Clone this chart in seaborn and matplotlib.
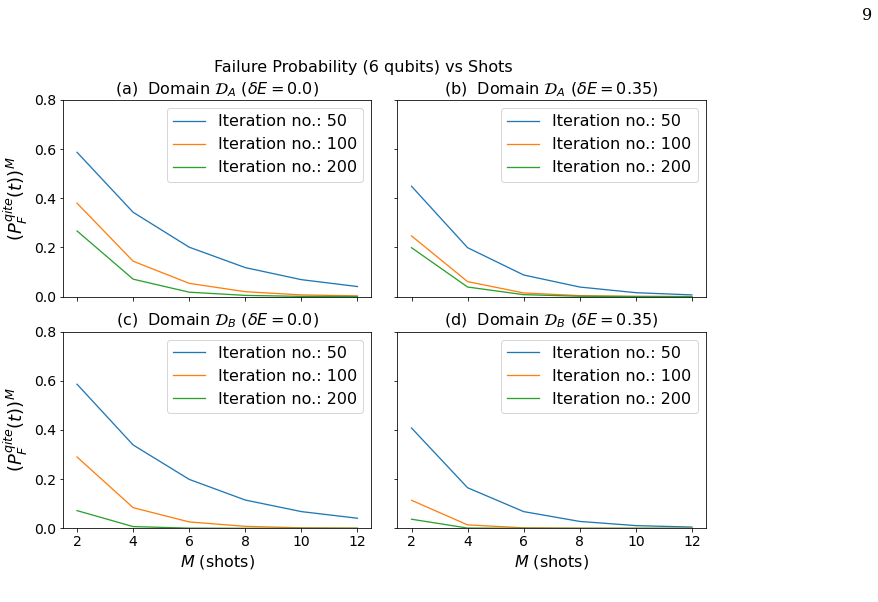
import seaborn as sns
import pandas as pd
import numpy as np
import matplotlib.pyplot as plt

shots = [2, 4, 6, 8, 10, 12]
iterations = [50, 100, 200]

# (a) domain A, dE = 0.0
a_50 = [0.587, 0.343, 0.201, 0.118, 0.069, 0.041]
a_100 = [0.380, 0.144, 0.054, 0.020, 0.007, 0.003]
a_200 = [0.267, 0.071, 0.018, 0.005, 0.001, 0.0003]
# (b) domain A, dE = 0.35
b_50 = [0.449, 0.199, 0.088, 0.039, 0.016, 0.007]
b_100 = [0.247, 0.061, 0.015, 0.004, 0.001, 0.0002]
b_200 = [0.199, 0.039, 0.008, 0.0015, 0.0003, 0.0001]
# (c) domain B, dE = 0.0
c_50 = [0.586, 0.339, 0.199, 0.115, 0.068, 0.041]
c_100 = [0.290, 0.084, 0.026, 0.008, 0.002, 0.0006]
c_200 = [0.072, 0.007, 0.0007, 0.0001, 0.0, 0.0]
# (d) domain B, dE = 0.35
d_50 = [0.408, 0.165, 0.068, 0.028, 0.011, 0.005]
d_100 = [0.114, 0.014, 0.002, 0.0002, 0.0, 0.0]
d_200 = [0.037, 0.001, 0.0, 0.0, 0.0, 0.0]

titles = [r"(a)  Domain $\mathcal{D}_A$ ($\delta E = 0.0$)",
          r"(b)  Domain $\mathcal{D}_A$ ($\delta E = 0.35$)",
          r"(c)  Domain $\mathcal{D}_B$ ($\delta E = 0.0$)",
          r"(d)  Domain $\mathcal{D}_B$ ($\delta E = 0.35$)"]
panels = [[a_50, a_100, a_200], [b_50, b_100, b_200],
          [c_50, c_100, c_200], [d_50, d_100, d_200]]

plt.rcParams['font.size'] = 14
plt.rcParams['mathtext.fontset'] = 'dejavusans'

fig, axes = plt.subplots(2, 2, figsize=(878 / 72, 602 / 72), dpi=72,
                         sharex=True, sharey=True)
fig.subplots_adjust(left=0.0718, right=0.804, bottom=0.1224, top=0.834,
                    wspace=0.0844, hspace=0.178)

for ax, title, series in zip(axes.flat, titles, panels):
    rows = []
    for it, vals in zip(iterations, series):
        for m, v in zip(shots, vals):
            rows.append({"M": m, "P": v, "label": f"Iteration no.: {it}"})
    df = pd.DataFrame(rows)
    sns.lineplot(data=df, x="M", y="P", hue="label", palette="tab10",
                 ax=ax, linewidth=1.3)
    ax.set_title(title, fontsize=16)
    ax.set_ylim(0, 0.8)
    ax.set_xticks(shots)
    ax.set_yticks([0.0, 0.2, 0.4, 0.6, 0.8])
    ax.tick_params(labelsize=14)
    ax.set_xlabel("")
    ax.set_ylabel("")
    ax.legend(loc="upper right", fontsize=16)

for ax in axes[:, 0]:
    ax.set_ylabel(r"$(P_F^{qite}(t))^M$", fontsize=18)
for ax in axes[1, :]:
    ax.set_xlabel(r"$M$ (shots)", fontsize=16)

fig.suptitle("Failure Probability (6 qubits) vs Shots", x=0.414, y=0.9,
             fontsize=16)
fig.text(0.993, 0.96, "9", family="DejaVu Serif", fontsize=16,
         ha="right", va="bottom")

plt.savefig("out.png", dpi=72)
